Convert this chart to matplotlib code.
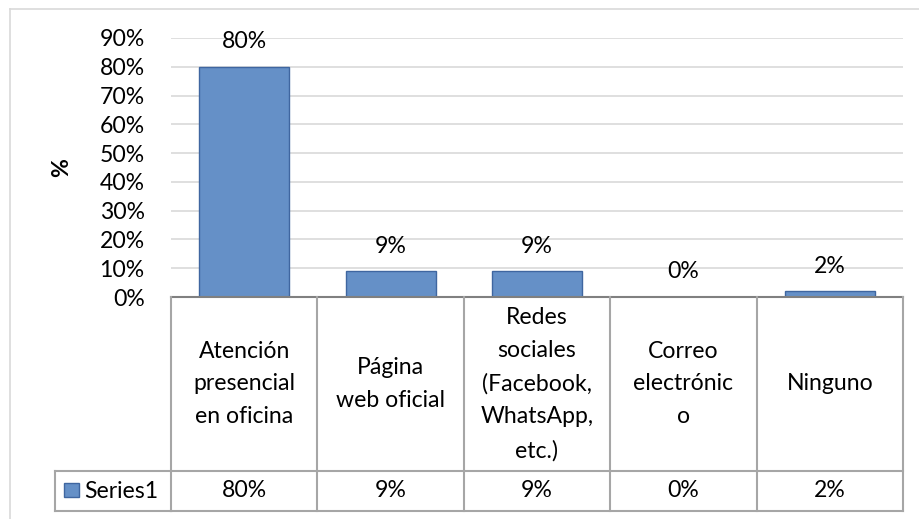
import matplotlib.pyplot as plt
from matplotlib.lines import Line2D
from matplotlib.patches import Rectangle

plt.rcParams['font.family'] = ['Lato', 'DejaVu Sans']

# datos del gráfico
categorias = ['Atención\npresencial\nen oficina', 'Página\nweb oficial',
              'Redes\nsociales\n(Facebook,\nWhatsApp,\netc.)', 'Correo\nelectrónic\no',
              'Ninguno']
valores = [0.80, 0.09, 0.09, 0.00, 0.02]
etiquetas = ['80%', '9%', '9%', '0%', '2%']
serie = 'Series1'
y_ticks = [0, 0.1, 0.2, 0.3, 0.4, 0.5, 0.6, 0.7, 0.8, 0.9]

W, H = 920, 519
FS = 16.6
color_barra = '#6590C7'
borde_barra = '#3F66A0'
gris_tabla = '#A6A6A6'


def fx(px):
    return px / W


def fy(py):
    return 1 - py / H


fig = plt.figure(figsize=(W / 100, H / 100), dpi=100)

# borde exterior del gráfico
fig.add_artist(Line2D([fx(10), fx(10)], [fy(9), fy(H + 5)], color='#D9D9D9', lw=1.2))
fig.add_artist(Line2D([fx(10), fx(W + 5)], [fy(9), fy(9)], color='#D9D9D9', lw=1.2))

# área de trazado
left, right, top, bottom = 171, 903, 38, 297
ax = fig.add_axes([fx(left), fy(bottom), (right - left) / W, (bottom - top) / H])
x = range(len(valores))
ax.bar(x, valores, width=0.615, color=color_barra, edgecolor=borde_barra, linewidth=1, zorder=3)
ax.set_xlim(-0.5, len(valores) - 0.5)
ax.set_ylim(0, 0.9)
ax.set_yticks(y_ticks)
ax.set_yticklabels([f'{int(round(t * 100))}%' for t in y_ticks], fontsize=FS)
ax.tick_params(axis='y', length=0, pad=19)
ax.tick_params(axis='x', length=0, labelbottom=False)
ax.grid(axis='y', color='#D9D9D9', lw=1.2, zorder=0)
for s in ['left', 'right', 'top']:
    ax.spines[s].set_visible(False)
ax.spines['bottom'].set_color('#808080')
ax.spines['bottom'].set_linewidth(1.5)
ax.spines['bottom'].set_zorder(4)

for i, (v, t) in enumerate(zip(valores, etiquetas)):
    ax.annotate(t, (i, v), xytext=(0, 18), textcoords='offset points',
                ha='center', va='center', fontsize=FS)

fig.text(fx(62), fy(168), '%', rotation=90, ha='center', va='center',
         fontsize=FS, fontweight='bold')

# tabla de datos
t_top, t_mid, t_bot = 297, 471, 511
tax = fig.add_axes([fx(left), fy(t_bot), (right - left) / W, (t_bot - t_top) / H])
tax.set_xlim(-0.5, len(valores) - 0.5)
tax.set_ylim(t_bot, t_top)
tax.axis('off')
col_w = (right - left) / len(valores)
x_leg = -0.5 - (left - 55) / col_w
kw = dict(color=gris_tabla, lw=1.5, clip_on=False)
for i in range(len(valores) + 1):
    tax.plot([i - 0.5, i - 0.5], [t_top, t_bot], **kw)
tax.plot([-0.5, len(valores) - 0.5], [t_bot, t_bot], **kw)
tax.plot([x_leg, len(valores) - 0.5], [t_mid, t_mid], **kw)
tax.plot([x_leg, -0.5], [t_bot, t_bot], **kw)
tax.plot([x_leg, x_leg], [t_mid, t_bot], **kw)

for i, (c, t) in enumerate(zip(categorias, etiquetas)):
    tax.text(i, (t_top + t_mid) / 2, c, ha='center', va='center',
             fontsize=FS, linespacing=1.7, multialignment='center')
    tax.text(i, (t_mid + t_bot) / 2, t, ha='center', va='center', fontsize=FS)

# clave de leyenda
fig.add_artist(Rectangle((fx(64), fy(497)), 15 / W, 14 / H, facecolor=color_barra,
                         edgecolor=borde_barra, lw=1))
fig.text(fx(84), fy(491), serie, ha='left', va='center', fontsize=FS)

fig.savefig('out.png', dpi=100)
